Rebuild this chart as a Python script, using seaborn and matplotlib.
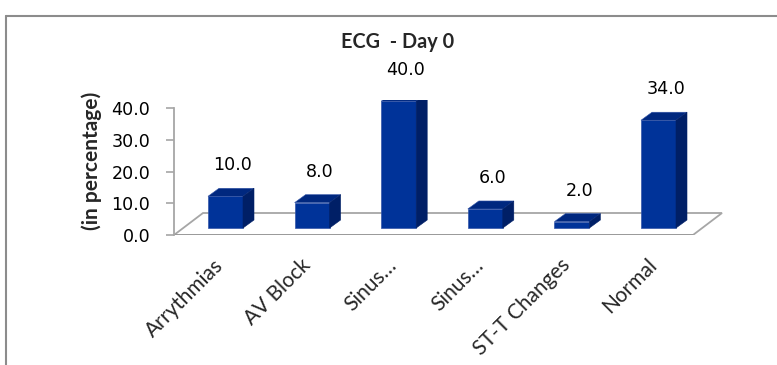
import matplotlib
matplotlib.use("Agg")
import matplotlib.pyplot as plt
import matplotlib.transforms as mtransforms
from matplotlib.patches import Polygon
from matplotlib.lines import Line2D
from matplotlib.ticker import FormatStrFormatter
import numpy as np
import pandas as pd
import seaborn as sns

# ECG findings on day 0 (percent of patients)
tick_labels = ["Arrythmias", "AV Block", "Sinus\u2026", "Sinus\u2026", "ST-T Changes", "Normal"]
values = [10.0, 8.0, 40.0, 6.0, 2.0, 34.0]
y_ticks = [0, 10, 20, 30, 40]

sns.set_style("white")
plt.rcParams["font.family"] = ["DejaVu Sans"]

W, H = 777, 365
fig = plt.figure(figsize=(W / 100, H / 100), dpi=100)

# plot area in pixels
left_px, right_px = 174, 727
zero_px, top_px = 235, 100
px_cat = 86.6          # pixels per category
px_unit = 3.17         # pixels per percentage point
first_center_px = 225.5

ax = fig.add_axes([left_px / W, 1 - zero_px / H,
                   (right_px - left_px) / W, (zero_px - top_px) / H])
xmin = -(first_center_px - left_px) / px_cat
xmax = xmin + (right_px - left_px) / px_cat
ymax = (zero_px - top_px) / px_unit

# pseudo-3D geometry (data units)
base = 7 / px_unit                  # bars stand a little behind the front floor edge
dx, dy = 11 / px_cat, 8 / px_unit   # bar depth
fdx, fdy = 29 / px_cat, 22 / px_unit  # floor depth
floor_right = (693 - first_center_px) / px_cat

front = "#003399"
top_c = "#00287f"
side_c = "#001f66"
edge_c = "#3355a8"
grid_c = "#a6a6a6"

# floor
floor = Polygon([(xmin, 0), (floor_right, 0), (floor_right + fdx, fdy), (xmin + fdx, fdy)],
                closed=True, facecolor="white", edgecolor=grid_c, linewidth=1.3, zorder=1)
ax.add_patch(floor)
ax.plot([xmin, floor_right], [0, 0], color="#999999", linewidth=2.0, zorder=1.5,
        solid_capstyle="butt")

df = pd.DataFrame({"pos": np.arange(len(values)), "value": values})
sns.barplot(data=df, x="pos", y="value", width=35 / px_cat, bottom=base,
            color=front, edgecolor=edge_c, linewidth=0.5, errorbar=None,
            saturation=1, ax=ax, zorder=3)

for p in list(ax.patches):
    if p is floor:
        continue
    x, w = p.get_x(), p.get_width()
    b = p.get_y()
    t = b + p.get_height()
    ax.add_patch(Polygon([(x, t), (x + w, t), (x + w + dx, t + dy), (x + dx, t + dy)],
                         closed=True, facecolor=top_c, edgecolor=edge_c, linewidth=0.4, zorder=3))
    ax.add_patch(Polygon([(x + w, b), (x + w + dx, b + dy), (x + w + dx, t + dy), (x + w, t)],
                         closed=True, facecolor=side_c, edgecolor=side_c, linewidth=0.4, zorder=3))

for i, v in enumerate(values):
    ax.text(i + 0.085, v + 12.0, f"{v:.1f}", ha="center", va="center",
            fontsize=12.6, color="black", family="DejaVu Sans", zorder=5)

ax.set_xlim(xmin, xmax)
ax.set_ylim(0, ymax)
ax.set_xlabel("")
ax.set_ylabel("")

# value axis
ax.set_yticks(y_ticks)
ax.yaxis.set_major_formatter(FormatStrFormatter("%.1f"))
ax.tick_params(axis="y", left=True, length=6, width=1.2, color=grid_c, pad=11,
               labelsize=12.6, labelcolor="black")
for s in ["top", "right", "bottom"]:
    ax.spines[s].set_visible(False)
ax.spines["left"].set_color(grid_c)
ax.spines["left"].set_linewidth(1.3)
ax.spines["left"].set_bounds(0, y_ticks[-1])

# category axis
ax.set_xticks(np.arange(len(tick_labels)))
ax.set_xticklabels(tick_labels, family="Lato", fontsize=15)
ax.tick_params(axis="x", bottom=False, length=0, pad=19.5)
shift = mtransforms.ScaledTranslation(-5 / 100, 0, fig.dpi_scale_trans)
for lbl in ax.get_xticklabels():
    lbl.set_rotation(45)
    lbl.set_ha("right")
    lbl.set_va("center")
    lbl.set_rotation_mode("anchor")
    lbl.set_transform(lbl.get_transform() + shift)

fig.text(398 / W, 1 - 42 / H, "ECG  - Day 0", ha="center", va="center",
         fontsize=14.3, fontweight="bold", family="Lato")
fig.text(92 / W, 1 - 161 / H, "(in percentage)", ha="center", va="center",
         rotation=90, fontsize=15, fontweight="bold", family="Lato")

# chart frame
fig.add_artist(Line2D([6 / W, 1], [1 - 16 / H, 1 - 16 / H], transform=fig.transFigure,
                      color="#8c8c8c", linewidth=1.5))
fig.add_artist(Line2D([6 / W, 6 / W], [0, 1 - 16 / H], transform=fig.transFigure,
                      color="#8c8c8c", linewidth=1.5))

fig.savefig("out.png", dpi=100)
